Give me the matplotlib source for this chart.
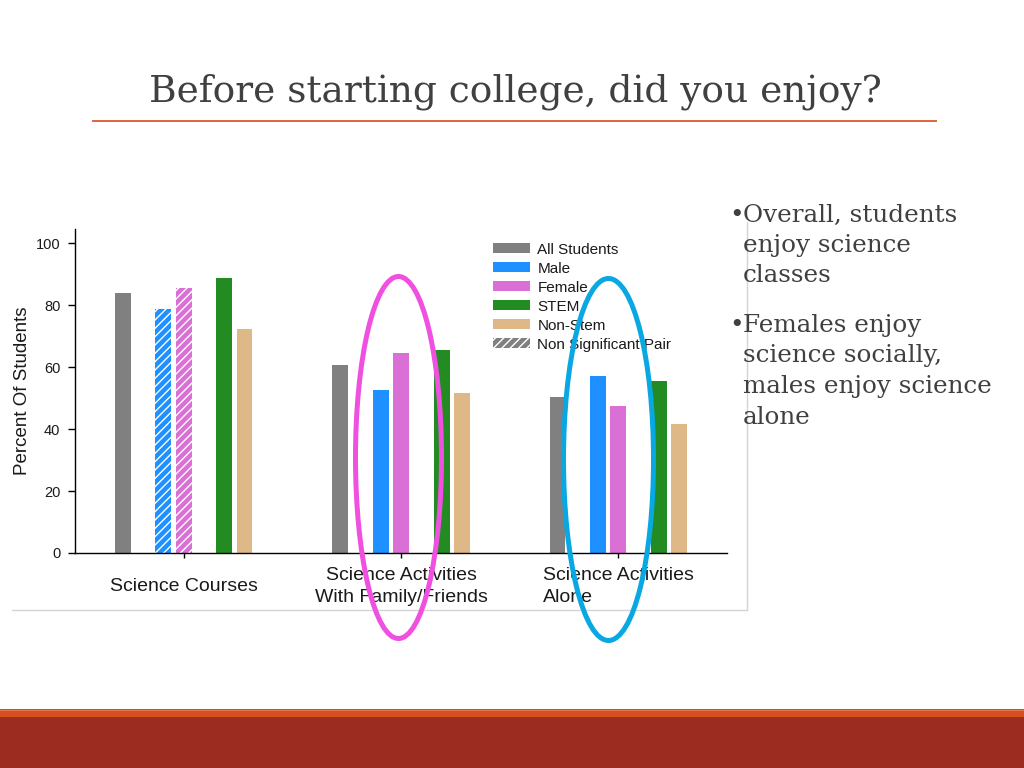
import matplotlib
matplotlib.use('Agg')
import matplotlib.pyplot as plt
from matplotlib.patches import Ellipse, Rectangle, Patch
import numpy as np

# ---------------- data ----------------
categories = ['Science Courses',
              'Science Activities\nWith Family/Friends',
              'Science Activities\nAlone']
series_names = ['All Students', 'Male', 'Female', 'STEM', 'Non-Stem']
all_students = [84.0, 60.8, 50.4]
male = [78.9, 52.7, 57.3]
female = [85.5, 64.5, 47.3]
stem = [88.9, 65.6, 55.4]
non_stem = [72.2, 51.5, 41.6]
non_significant = [('Male', 0), ('Female', 0)]   # hatched bars (series, category index)
nonsig_label = 'Non Significant Pair'
y_ticks = [0, 20, 40, 60, 80, 100]
y_label = 'Percent Of Students'
title_text = 'Before starting college, did you enjoy?'
bullet_groups = [['Overall, students', 'enjoy science', 'classes'],
                 ['Females enjoy', 'science socially,', 'males enjoy science', 'alone']]

# ---------------- style ----------------
series_values = [all_students, male, female, stem, non_stem]
series_colors = ['#808080', '#1E90FF', '#DA70D6', '#228B22', '#DEB887']
slot_offsets = [-3, -1, 0, 2, 3]
slot = 0.0934
bar_width = 0.073
SANS = 'Liberation Sans'
SERIF = 'DejaVu Serif'
W, H = 1024, 768

fig = plt.figure(figsize=(W / 100, H / 100), dpi=100)
fig.patch.set_facecolor('white')

# background decorations (pixel coords)
bg = fig.add_axes([0, 0, 1, 1], zorder=0)
bg.set_xlim(0, W)
bg.set_ylim(H, 0)
bg.axis('off')
bg.add_patch(Rectangle((0, 709), W, 8, facecolor='#D64F1F', edgecolor='none'))
bg.add_patch(Rectangle((0, 717), W, 51, facecolor='#9C2C20', edgecolor='none'))
bg.plot([0, W], [709.5, 709.5], color='#E2744A', lw=0.8)
bg.plot([92, 937], [121, 121], color='#DB6640', lw=1.4, solid_capstyle='butt')
bg.plot([12, 747], [610, 610], color='#D4D4D4', lw=1.0)
bg.plot([747, 747], [222, 610], color='#D4D4D4', lw=1.0)

fig.text(515 / W, 1 - 102 / H, title_text, family=SERIF, fontsize=27,
         color='#404040', ha='center', va='baseline')

baselines = [[222, 252, 282], [332, 362.5, 393, 423.5]]
for lines, ys in zip(bullet_groups, baselines):
    fig.text(729.5 / W, 1 - ys[0] / H, '\u2022', family=SERIF, fontsize=17.7,
             color='#404040', ha='left', va='baseline')
    for line, yb in zip(lines, ys):
        fig.text(743 / W, 1 - yb / H, line, family=SERIF, fontsize=17.7,
                 color='#404040', ha='left', va='baseline')

# ---------------- chart ----------------
ax = fig.add_axes([75 / W, 1 - 553 / H, 652 / W, 324 / H], zorder=1)
ax.patch.set_alpha(0)
x = np.arange(len(categories))
for name, vals, color, off in zip(series_names, series_values, series_colors, slot_offsets):
    bars = ax.bar(x + off * slot, vals, bar_width, color=color, linewidth=0, zorder=2)
    for s, c in non_significant:
        if s == name:
            bars[c].set_hatch('////')
            bars[c].set_edgecolor('white')

ax.set_xlim(-0.5, 2.5)
ax.set_ylim(0, 104.6)
ax.set_yticks(y_ticks)
ax.set_xticks(x)
ax.set_xticklabels(categories)
for sp in ['top', 'right']:
    ax.spines[sp].set_visible(False)
for sp in ['left', 'bottom']:
    ax.spines[sp].set_linewidth(1.0)
    ax.spines[sp].set_color('black')
ax.tick_params(axis='y', length=5, width=1, labelsize=10.5, pad=5.5, labelcolor='#1a1a1a')
ax.tick_params(axis='x', length=3.5, width=1, labelsize=14, pad=20.5, labelcolor='#1a1a1a')
for lab in ax.get_xticklabels():
    lab.set_fontfamily(SANS)
    lab.set_verticalalignment('center')
    lab.set_linespacing(1.4)
ax.get_xticklabels()[2].set_multialignment('left')
for lab in ax.get_yticklabels():
    lab.set_fontfamily(SANS)
ax.set_ylabel(y_label, family=SANS, fontsize=13.5, labelpad=3.5, color='#1a1a1a')

handles = [Patch(facecolor=c, edgecolor='none') for c in series_colors]
handles.append(Patch(facecolor='#808080', edgecolor='white', hatch='////', linewidth=0))
labels = series_names + [nonsig_label]
leg = ax.legend(handles, labels, loc='upper left',
                bbox_to_anchor=(493 / W, 1 - 242.5 / H), bbox_transform=fig.transFigure,
                frameon=False, prop={'family': SANS, 'size': 11},
                handlelength=2.4, handleheight=0.65, handletextpad=0.5,
                labelspacing=0.33, borderpad=0, borderaxespad=0)
for t in leg.get_texts():
    t.set_color('#1a1a1a')

# ---------------- highlight ellipses ----------------
ov = fig.add_axes([0, 0, 1, 1], zorder=3)
ov.set_xlim(0, W)
ov.set_ylim(H, 0)
ov.axis('off')
ov.patch.set_alpha(0)
ov.add_patch(Ellipse((398.5, 457.5), 86, 362, fill=False, edgecolor='#F050E0', lw=3.6))
ov.add_patch(Ellipse((608.5, 459.5), 90, 362, fill=False, edgecolor='#0AA8E2', lw=3.6))

fig.savefig('out.png', dpi=100, facecolor='white')
